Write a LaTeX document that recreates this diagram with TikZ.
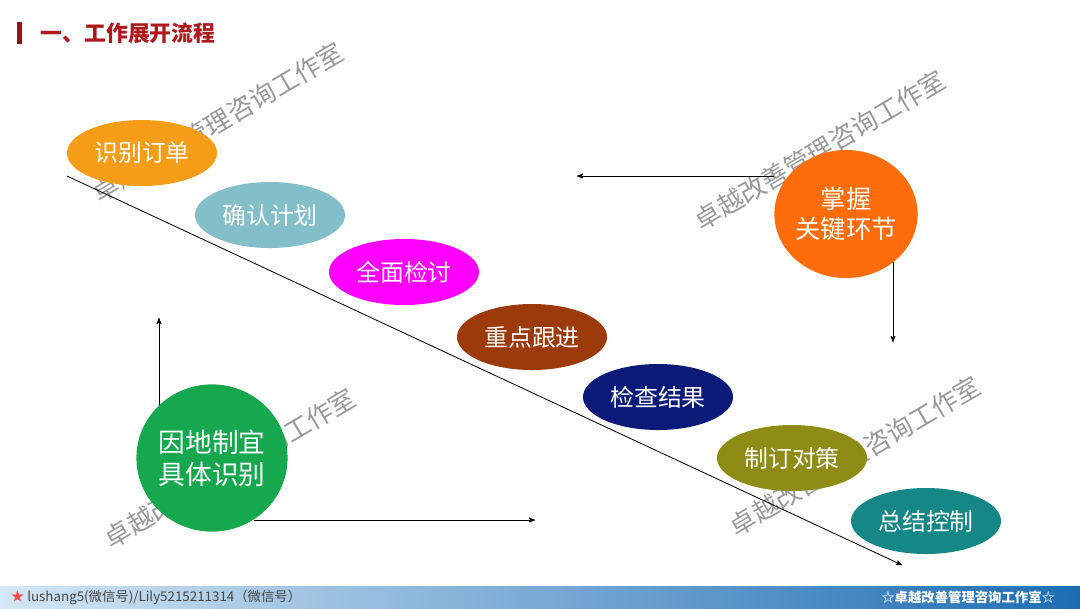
\documentclass[tikz,border=0pt]{standalone}
\usepackage{fontspec}
\newfontfamily\cjk{Noto Sans CJK SC}
\usetikzlibrary{arrows}
\usetikzlibrary{shapes.geometric}
\usetikzlibrary{backgrounds}

\definecolor{titlered}{HTML}{B0181D}
\definecolor{ordorange}{HTML}{F59D16}
\definecolor{planblue}{HTML}{82BFC9}
\definecolor{checkpink}{HTML}{FF00FF}
\definecolor{followbrown}{HTML}{9C3A0C}
\definecolor{resultnavy}{HTML}{0D1B78}
\definecolor{measureolive}{HTML}{8E8C14}
\definecolor{controlteal}{HTML}{168787}
\definecolor{keyorange}{HTML}{FF6C0A}
\definecolor{localgreen}{HTML}{16A84F}
\definecolor{barlight}{HTML}{D4E7F5}
\definecolor{barblue}{HTML}{1E6DB3}

\begin{document}
\begin{tikzpicture}[x=0.025cm, y=-0.025cm,
  oval/.style={ellipse, minimum width=3.75cm, minimum height=1.65cm, inner sep=0pt,
    text=white, font=\cjk\fontsize{17}{20}\selectfont},
  ball/.style={ellipse, inner sep=0pt, text=white, align=center},
  wmark/.style={text=gray!80, rotate=30.5, font=\cjk\fontsize{18.5}{20}\selectfont},
  link/.style={black, semithick, ->, >=stealth'}]
\useasboundingbox (0,0) rectangle (1080,608);

% watermarks
\begin{scope}[on background layer]
\foreach \x/\y in {218/122, 820/150, 230/468, 855/456}
  \node[wmark] (wm\x) at (\x,\y) {卓越改善管理咨询工作室};
\end{scope}

% title
\fill[titlered!85!black] (17,22) rectangle (22,44);
\node[anchor=west, text=titlered, font=\cjk\bfseries\fontsize{15.5}{18}\selectfont] (title) at (36,33) {一、工作展开流程};

% steps
\foreach \n/\x/\y/\c/\t in {s1/142/153/ordorange/识别订单, s2/270/215/planblue/确认计划,
  s3/404/272/checkpink/全面检讨, s4/532/337/followbrown/重点跟进, s5/658/397/resultnavy/检查结果,
  s6/792/458/measureolive/制订对策, s7/926/521/controlteal/总结控制}
  \node[oval, fill=\c] (\n) at (\x,\y) {\t};

\node[ball, fill=keyorange, minimum width=3.45cm, minimum height=3.2cm,
  font=\cjk\fontsize{18}{21}\selectfont] (grasp) at (846,214) {掌握\\关键环节};
\node[ball, fill=localgreen, minimum width=3.72cm, minimum height=3.68cm,
  font=\cjk\fontsize{19}{23}\selectfont] (local) at (212,458) {因地制宜\\具体识别};

% connectors
\coordinate (dstart) at (67,176);
\coordinate (dend) at (902,565);
\coordinate (leftend) at (577,176);
\coordinate (downend) at (893,342);
\coordinate (upend) at (159,318);
\coordinate (rightend) at (535,520);
\begin{scope}[on background layer]
\draw[link] (dstart) -- (dend);
\draw[link] (grasp.west |- leftend) -- (leftend);
\draw[link] (grasp.-45 -| downend) -- (downend);
\draw[link] (local.136 -| upend) -- (upend);
\draw[link] (local.-56 |- rightend) -- (rightend);
\end{scope}

% footer
\shade[left color=barlight, right color=barblue] (0,586) rectangle (1080,608);
\node[anchor=west, text=gray!55!black, font=\cjk\fontsize{9.5}{11}\selectfont] (contact) at (6,597)
  {\textcolor{red!70}{★} lushang5(微信号)/Lily5215211314（微信号）};
\node[anchor=east, text=white, font=\cjk\bfseries\fontsize{9.5}{11}\selectfont] (brand) at (1060,597)
  {☆卓越改善管理咨询工作室☆};
\end{tikzpicture}
\end{document}
